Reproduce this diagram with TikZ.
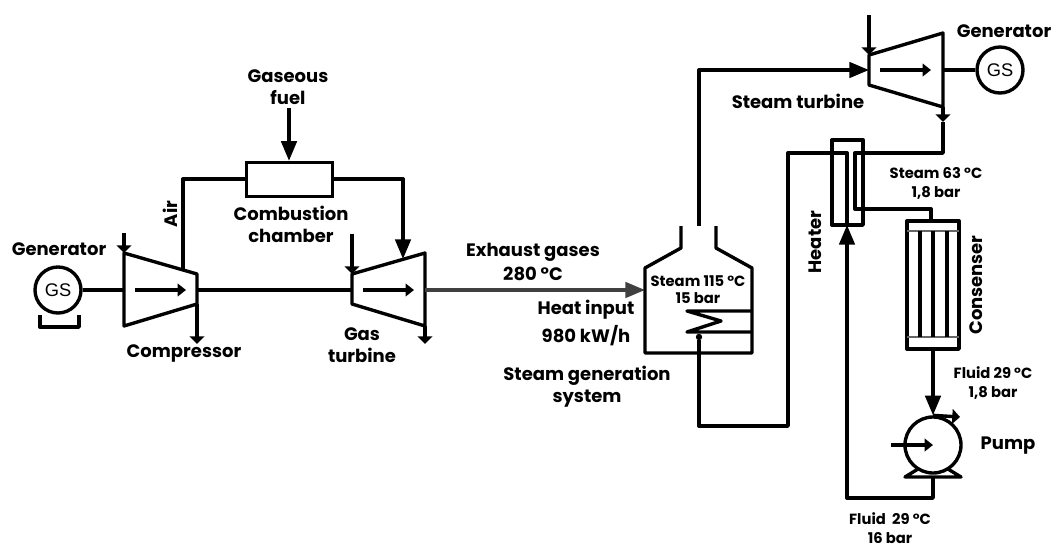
\documentclass[tikz,border=0pt]{standalone}
\usepackage{fontspec}
\setmainfont{Poppins}
\newfontfamily\gsfont{Liberation Sans}
\usetikzlibrary{arrows.meta}

\tikzset{
    pipe/.style={line width=2.4pt, line join=round},
    bigarrow/.style={pipe, -{Triangle[length=14pt,width=11pt]}},
    smallarrow/.style={pipe, -{Triangle[length=5.5pt,width=10.5pt]}},
    innerarrow/.style={pipe, -{Triangle[length=6pt,width=9pt]}},
    gsnode/.style={circle, draw, line width=2.4pt, minimum size=1.15cm, inner sep=0pt, font=\gsfont\fontsize{13}{13}\selectfont},
    label/.style={font=\bfseries\fontsize{12.8}{12.8}\selectfont, inner sep=0pt, align=center},
    smalllabel/.style={font=\bfseries\fontsize{10.5}{10.5}\selectfont, inner sep=0pt, align=center},
}

\begin{document}
\begin{tikzpicture}[x=0.025cm, y=-0.025cm]

    \useasboundingbox (0,0) rectangle (1055,547);

    % generators and chamber
    \node[gsnode] (gs1) at (58,290) {GS};
    \node[gsnode] (gs2) at (1000,70) {GS};
    \node[draw, line width=2.4pt, minimum width=2.15cm, minimum height=0.85cm, inner sep=0pt] (chamber) at (289.5,179.5) {};
    \node[circle, fill=black, minimum size=0.16cm, inner sep=0pt] (dot) at (699,337) {};

    % compressor
    \coordinate (c1) at (124,253);
    \coordinate (c2) at (124,326);
    \coordinate (c3) at (197,304);
    \coordinate (c4) at (197,274);
    \draw[pipe] (c1) -- (c2) -- (c3) -- (c4) -- cycle;

    % gas turbine
    \coordinate (t1) at (352,274);
    \coordinate (t2) at (352,304);
    \coordinate (t3) at (425,326);
    \coordinate (t4) at (425,253);
    \draw[pipe] (t1) -- (t2) -- (t3) -- (t4) -- cycle;

    % steam turbine
    \coordinate (s1) at (869,55);
    \coordinate (s2) at (869,85);
    \coordinate (s3) at (943,107);
    \coordinate (s4) at (943,33);
    \draw[pipe] (s1) -- (s2) -- (s3) -- (s4) -- cycle;

    % shafts
    \draw[pipe] (gs1) -- (124,290);
    \draw[pipe] (197,290) -- (352,290);
    \draw[pipe] (943,70) -- (gs2);

    % arrows inside the machines
    \draw[innerarrow] (135,290) -- (186,290);
    \draw[innerarrow] (363,290) -- (414,290);
    \draw[innerarrow] (880,70) -- (931,70);

    % small inlets and outlets
    \draw[smallarrow] (124,233) -- (c1);
    \draw[smallarrow] (197,304) -- (197,344);
    \draw[smallarrow] (352,234) -- (t1);
    \draw[smallarrow] (425,326) -- (425,344);
    \draw[smallarrow] (869,15) -- (s1);

    % generator base
    \coordinate (b1) at (40,315);
    \coordinate (b2) at (40,327);
    \coordinate (b3) at (79,327);
    \coordinate (b4) at (79,315);
    \draw[pipe] (b1) -- (b2) -- (b3) -- (b4);

    % air and fuel
    \coordinate (air1) at (183,270);
    \coordinate (air2) at (183,179);
    \coordinate (hot1) at (403,179);
    \coordinate (hot2) at (403,259);
    \coordinate (fuel) at (289,108);
    \draw[pipe] (air1) -- (air2) -- (chamber.west |- air2);
    \draw[bigarrow] (chamber.east |- hot1) -- (hot1) -- (hot2);
    \draw[bigarrow] (fuel) -- (chamber.north -| fuel);

    % exhaust
    \coordinate (ex1) at (425,290);
    \coordinate (ex2) at (645,290);
    \draw[bigarrow, color=black!75] (ex1) -- (ex2);

    % steam generator
    \coordinate (h1) at (681,226);
    \coordinate (h2) at (681,248);
    \coordinate (h3) at (645,268);
    \coordinate (h4) at (645,353);
    \coordinate (h5) at (752,353);
    \coordinate (h6) at (752,268);
    \coordinate (h7) at (716,248);
    \coordinate (h8) at (716,226);
    \draw[pipe] (h1) -- (h2) -- (h3) -- (h4) -- (h5) -- (h6) -- (h7) -- (h8);
    \coordinate (k1) at (752,311);
    \coordinate (k2) at (687,311);
    \coordinate (k3) at (721,321);
    \coordinate (k4) at (687,332);
    \coordinate (k5) at (752,332);
    \draw[pipe] (k1) -- (k2) -- (k3) -- (k4) -- (k5);

    % steam to turbine
    \coordinate (st1) at (699,226);
    \coordinate (st2) at (699,70);
    \coordinate (st3) at (869,70);
    \draw[bigarrow] (st1) -- (st2) -- (st3);

    % heater
    \coordinate (hr1) at (832,140);
    \coordinate (hr2) at (863,225);
    \draw[pipe] (hr1) rectangle (hr2);

    % turbine to condenser through heater
    \coordinate (o1) at (943,122);
    \coordinate (o2) at (943,153);
    \coordinate (o3) at (855,153);
    \coordinate (o4) at (855,209);
    \coordinate (o5) at (931,209);
    \coordinate (o6) at (931,221);
    \draw[smallarrow] (s3) -- (o1);
    \draw[pipe] (o1) -- (o2) -- (o3) -- (o4) -- (o5) -- (o6);

    % condenser
    \coordinate (cd1) at (907,221);
    \coordinate (cd2) at (959,349);
    \draw[pipe] (cd1) rectangle (cd2);
    \draw[line width=1pt, black!60] (907,231) -- (959,231);
    \draw[line width=1pt, black!60] (907,337) -- (959,337);
    \draw[pipe] (920,231) -- (920,337);
    \draw[pipe] (933,231) -- (933,337);
    \draw[pipe] (947,231) -- (947,337);

    % pump
    \node[circle, draw, line width=2.4pt, minimum size=1.4cm, inner sep=0pt] (pump) at (933,445) {};
    \coordinate (f1) at (905,477);
    \coordinate (f2) at (961,477);
    \coordinate (f3) at (918,469);
    \coordinate (f4) at (948,469);
    \draw[pipe] (f3) -- (f1) -- (f2) -- (f4);
    \draw[bigarrow] (933,349) -- (pump.north);
    \draw[smallarrow] (pump.north) -- (960,417);
    \draw[innerarrow] (891,445) -- (pump.center);

    % feed water
    \coordinate (w1) at (933,477);
    \coordinate (w2) at (933,498);
    \coordinate (w3) at (847,498);
    \coordinate (w4) at (847,225);
    \coordinate (w5) at (847,153);
    \coordinate (w6) at (788,153);
    \coordinate (w7) at (788,426);
    \coordinate (w8) at (699,426);
    \draw[bigarrow] (w1) -- (w2) -- (w3) -- (w4);
    \draw[pipe] (w4) -- (w5) -- (w6) -- (w7) -- (w8) -- (dot);

    % labels
    \node[label] (lgen1) at (59,249) {Generator};
    \node[label, rotate=90] (lair) at (170,214) {Air};
    \node[label] (lfuel) at (288,87) {Gaseous\\[2.7pt]fuel};
    \node[label] (lchamber) at (291,224) {Combustion\\[2.7pt]chamber};
    \node[label] (lcomp) at (184,353) {Compressor};
    \node[label] (lgas) at (362,345) {Gas\\[2.7pt]turbine};
    \node[label] (lex) at (533,262) {Exhaust gases\\[2.7pt]280 °C};
    \node[label] (lheat) at (586,323) {Heat input\\[2.7pt]980 kW/h};
    \node[label] (lsys) at (587,387) {Steam generation\\[2.7pt]system};
    \node[smalllabel] (lst1) at (698,289.5) {Steam 115 °C\\[1.5pt]15 bar};
    \node[label] (lgen2) at (1004,31) {Generator};
    \node[label] (lsteam) at (798,101) {Steam turbine};
    \node[smalllabel] (lst2) at (936,183.5) {Steam 63 °C\\[3.5pt]1,8 bar};
    \node[label, rotate=90] (lheater) at (815,242) {Heater};
    \node[label, rotate=90] (lcons) at (976,285) {Consenser};
    \node[smalllabel] (lfl1) at (993,383) {Fluid 29 °C\\[3.5pt]1,8 bar};
    \node[label] (lpump) at (1008,446) {Pump};
    \node[smalllabel] (lfl2) at (890,528) {Fluid~~29 °C\\[3.5pt]16 bar};

\end{tikzpicture}
\end{document}
